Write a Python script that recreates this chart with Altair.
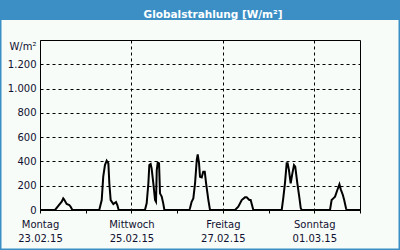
import altair as alt
import pandas as pd

# ---- data ----
DAYS = ["2015-02-23", "2015-02-24", "2015-02-25", "2015-02-26",
        "2015-02-27", "2015-02-28", "2015-03-01"]
DAY_NAMES = ["Sonntag", "Montag", "Dienstag", "Mittwoch", "Donnerstag", "Freitag", "Samstag"]

TIMES_D0 = ["07:54", "09:36", "11:24", "12:12", "12:36", "14:00", "15:24", "16:06", "17:00"]
VALS_D0 = [0, 33, 68, 96, 88, 49, 41, 27, 0]
TIMES_D1 = ["07:06", "08:24", "09:12", "10:06", "11:00", "11:54", "12:24", "13:06", "14:30", "15:54", "16:36", "17:18"]
VALS_D1 = [0, 82, 274, 370, 406, 384, 220, 82, 49, 66, 41, 0]
TIMES_D2 = ["07:06", "08:00", "08:54", "09:24", "10:06", "10:36", "11:30", "12:24", "12:54", "13:18", "13:48", "14:30", "15:00", "15:54", "16:42", "17:18"]
VALS_D2 = [0, 55, 220, 370, 379, 343, 220, 82, 68, 329, 390, 384, 137, 110, 55, 0]
TIMES_D3 = ["06:24", "06:45", "07:36", "08:30", "09:24", "10:18", "10:48", "11:30", "12:00", "12:54", "13:42", "14:30", "15:12", "16:24", "17:15"]
VALS_D3 = [0, 14, 68, 96, 220, 412, 458, 384, 274, 269, 316, 316, 220, 82, 0]
TIMES_D4 = ["06:24", "08:06", "09:54", "11:36", "12:30", "13:54", "14:36", "15:18", "16:00"]
VALS_D4 = [0, 27, 82, 104, 104, 82, 82, 41, 0]
TIMES_D5 = ["06:54", "07:42", "08:36", "09:30", "10:00", "10:42", "11:36", "12:30", "13:21", "14:00", "15:06", "16:06", "16:54", "17:24"]
VALS_D5 = [0, 96, 220, 384, 384, 329, 220, 302, 370, 357, 220, 110, 14, 0]
TIMES_D6 = ["08:15", "09:06", "10:00", "10:54", "12:06", "13:12", "13:54", "15:00", "15:42", "16:39", "17:00"]
VALS_D6 = [0, 82, 96, 110, 165, 211, 170, 124, 82, 14, 0]

START = "2015-02-23T00:00:00Z"
END = "2015-03-02T00:00:00Z"
Y_TICKS = [0, 200, 400, 600, 800, 1000, 1200]

all_times = [TIMES_D0, TIMES_D1, TIMES_D2, TIMES_D3, TIMES_D4, TIMES_D5, TIMES_D6]
all_vals = [VALS_D0, VALS_D1, VALS_D2, VALS_D3, VALS_D4, VALS_D5, VALS_D6]

rows = [{"t": START, "v": 0}]
for day, ts, vs in zip(DAYS, all_times, all_vals):
    for t, v in zip(ts, vs):
        rows.append({"t": f"{day}T{t}:00Z", "v": v})
rows.append({"t": END, "v": 0})
df = pd.DataFrame(rows)

tick_values = [int(pd.Timestamp(d, tz="UTC").value // 10**6) for d in DAYS + ["2015-03-02"]]

BLUE = "#3b8fc5"
TXT = "#101030"
FONT = "DejaVu Sans"

names_js = "[" + ",".join(f"'{n}'" for n in DAY_NAMES) + "]"
label_expr = (
    f"utcdate(datum.value) % 2 == 1 ? [{names_js}[utcday(datum.value)], "
    "utcFormat(datum.value, '%d.%m.%y')] : ''"
)

line = alt.Chart(df).mark_line(color="black", strokeWidth=2).encode(
    x=alt.X(
        "t:T",
        scale=alt.Scale(type="utc", domain=[START, END]),
        axis=alt.Axis(
            values=tick_values,
            labelExpr=label_expr,
            labelOverlap=False,
            labelFlush=False,
            labelBound=False,
            labelFont=FONT,
            labelFontSize=10,
            labelColor=TXT,
            labelLineHeight=14,
            labelPadding=6,
            labelBaseline="top",
            tickSize=3,
            tickColor="black",
            domain=False,
            grid=True,
            gridColor="black",
            gridDash=[3, 3],
            gridWidth=1,
            gridOpacity={"condition": {"test": "utcdate(datum.value) % 2 == 1", "value": 1}, "value": 0},
            title=None,
        ),
    ),
    y=alt.Y(
        "v:Q",
        scale=alt.Scale(domain=[0, 1400], nice=False),
        axis=alt.Axis(
            values=Y_TICKS,
            labelExpr="replace(format(datum.value, ','), ',', '.')",
            labelFont=FONT,
            labelFontSize=10,
            labelColor=TXT,
            labelPadding=4,
            ticks=False,
            domain=False,
            grid=True,
            gridColor="black",
            gridDash=[3, 3],
            gridWidth=1,
            title="W/m²",
            titleAngle=0,
            titleAlign="right",
            titleBaseline="middle",
            titleX=-4,
            titleY=6,
            titleFont=FONT,
            titleFontSize=10,
            titleFontWeight="normal",
            titleColor=TXT,
        ),
    ),
)

one = alt.Data(values=[{}])
bar = alt.Chart(one).mark_rect(color=BLUE).encode(
    x=alt.value(-40), x2=alt.value(360), y=alt.value(-40), y2=alt.value(-20)
)
border = alt.Chart(one).mark_rect(fillOpacity=0, stroke=BLUE, strokeWidth=1.5).encode(
    x=alt.value(-39.25), x2=alt.value(359.25), y=alt.value(-39.25), y2=alt.value(209.25)
)

chart = alt.layer(bar, border, line).properties(
    width=320,
    height=170,
    autosize=alt.AutoSizeParams(type="none"),
    padding={"left": 40, "top": 40, "right": 40, "bottom": 40},
    background="#f8fcf8",
    title=alt.TitleParams(
        "Globalstrahlung [W/m²]",
        color="white",
        font=FONT,
        fontSize=10.5,
        fontWeight="bold",
        anchor="middle",
        baseline="alphabetic",
        offset=0,
        dy=28,
        dx=13,
        zindex=1,
    ),
).configure_view(stroke="black", strokeWidth=1)

chart.save("out.html", embed_options={"renderer": "svg", "actions": False})
